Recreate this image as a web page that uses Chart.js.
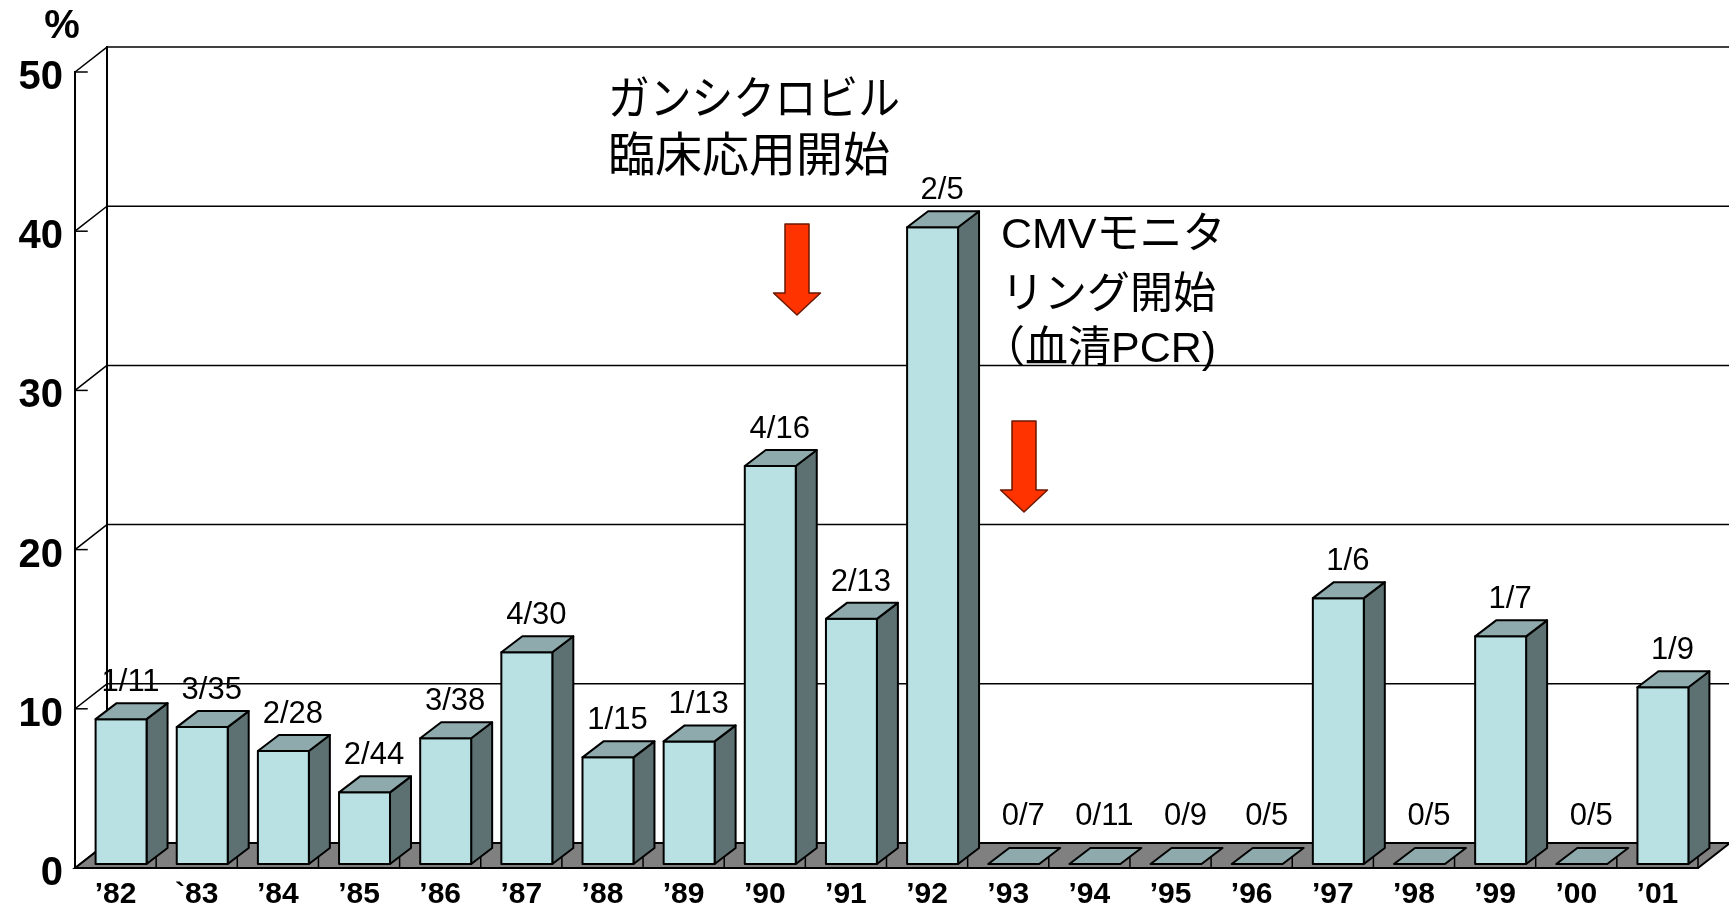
<!DOCTYPE html>
<html>
<head>
<meta charset="utf-8">
<script src="https://cdn.jsdelivr.net/npm/chart.js@4.4.0/dist/chart.umd.min.js"></script>
<style>
    html, body { margin: 0; padding: 0; background: #fff; }
    canvas { display: block; }
</style>
</head>
<body>
<canvas id="cmvChart" width="1729" height="909"></canvas>
<script>
// Years and incidence (%), with the n/N counts shown above each bar
const years = ['’82', '`83', '’84', '’85', '’86', '’87', '’88', '’89', '’90', '’91',
               '’92', '’93', '’94', '’95', '’96', '’97', '’98', '’99', '’00', '’01'];
const percents = [9.1, 8.6, 7.1, 4.5, 7.9, 13.3, 6.7, 7.7, 25, 15.4,
                  40, 0, 0, 0, 0, 16.7, 0, 14.3, 0, 11.1];
const counts = ['1/11', '3/35', '2/28', '2/44', '3/38', '4/30', '1/15', '1/13', '4/16', '2/13',
                '2/5', '0/7', '0/11', '0/9', '0/5', '1/6', '0/5', '1/7', '0/5', '1/9'];
const yTicks = [0, 10, 20, 30, 40, 50];

// 3D look
const WALL_DX = 32, WALL_DY = 25;
const BAR_DX = 21, BAR_DY = 16;
const BAR_OX = 5.5, BAR_OY = 4;
const FONT = '"Liberation Sans", Arial, "Noto Sans CJK JP", sans-serif';

function poly(ctx, pts, fill) {
    ctx.beginPath();
    ctx.moveTo(pts[0][0], pts[0][1]);
    for (let i = 1; i < pts.length; i++) ctx.lineTo(pts[i][0], pts[i][1]);
    ctx.closePath();
    if (fill) { ctx.fillStyle = fill; ctx.fill(); }
    ctx.stroke();
}

function line(ctx, x1, y1, x2, y2) {
    ctx.beginPath();
    ctx.moveTo(x1, y1);
    ctx.lineTo(x2, y2);
    ctx.stroke();
}

function arrow(ctx, cx, top, headStart, tip) {
    const sw = 12, hw = 23.5;
    ctx.save();
    ctx.fillStyle = '#FF3300';
    ctx.strokeStyle = '#6b1800';
    ctx.lineWidth = 1.5;
    ctx.beginPath();
    ctx.moveTo(cx - sw, top);
    ctx.lineTo(cx + sw, top);
    ctx.lineTo(cx + sw, headStart);
    ctx.lineTo(cx + hw, headStart);
    ctx.lineTo(cx, tip);
    ctx.lineTo(cx - hw, headStart);
    ctx.lineTo(cx - sw, headStart);
    ctx.closePath();
    ctx.fill();
    ctx.stroke();
    ctx.restore();
}

// Walls, gridlines, floor, then the 3D bars and texts
const wallsPlugin = {
    id: 'walls',
    beforeDatasetsDraw(chart) {
        const { ctx, chartArea: a, scales: { y } } = chart;
        const W = chart.width;
        ctx.save();
        ctx.strokeStyle = '#000';
        ctx.lineCap = 'square';

        // floor
        ctx.lineWidth = 2;
        poly(ctx, [[a.left, a.bottom], [a.right, a.bottom],
                   [a.right + WALL_DX, a.bottom - WALL_DY], [a.left + WALL_DX, a.bottom - WALL_DY]], '#808080');

        // gridlines on back and side wall
        ctx.lineWidth = 1.5;
        yTicks.forEach(v => {
            const py = y.getPixelForValue(v);
            if (v > 0) line(ctx, a.left + WALL_DX, py - WALL_DY, W, py - WALL_DY);
            line(ctx, a.left, py, a.left + WALL_DX, py - WALL_DY);
            line(ctx, a.left, py, a.left + 12, py);
        });

        // wall edges
        ctx.lineWidth = 2;
        line(ctx, a.left, a.bottom, a.left, a.top);
        line(ctx, a.left + WALL_DX, a.bottom - WALL_DY, a.left + WALL_DX, a.top - WALL_DY);

        // category ticks on the floor edge
        ctx.lineWidth = 1.5;
        const step = (a.right - a.left) / years.length;
        for (let i = 1; i <= years.length; i++) {
            const px = a.left + i * step;
            line(ctx, px, a.bottom, px, a.bottom - 10);
        }
        ctx.restore();
    },
    afterDatasetsDraw(chart) {
        const { ctx } = chart;
        const meta = chart.getDatasetMeta(0);
        ctx.save();
        ctx.strokeStyle = '#000';
        ctx.lineWidth = 2;
        ctx.lineJoin = 'round';

        meta.data.forEach((bar, i) => {
            const l = bar.x - bar.width / 2 + BAR_OX;
            const r = bar.x + bar.width / 2 + BAR_OX;
            const t = bar.y - BAR_OY;
            const b = bar.base - BAR_OY;
            if (b - t > 0.5) {
                poly(ctx, [[r, t], [r + BAR_DX, t - BAR_DY], [r + BAR_DX, b - BAR_DY], [r, b]], '#5E7172');
                poly(ctx, [[l, t], [r, t], [r, b], [l, b]], '#B9E0E3');
            }
            poly(ctx, [[l, t], [l + BAR_DX, t - BAR_DY], [r + BAR_DX, t - BAR_DY], [r, t]], '#8FAAAC');

            // n/N label
            ctx.fillStyle = '#000';
            ctx.font = '31px ' + FONT;
            ctx.textAlign = 'center';
            ctx.textBaseline = 'alphabetic';
            const ly = Math.min(bar.y - 32, bar.base - 43);
            ctx.fillText(counts[i], bar.x + 15, ly);
        });

        // "%" unit
        ctx.font = 'bold 40px ' + FONT;
        ctx.textAlign = 'center';
        ctx.textBaseline = 'middle';
        ctx.fillText('%', 62, 27);

        // annotations
        ctx.textAlign = 'left';
        ctx.font = '46px ' + FONT;
        ctx.fillText('ガンシクロビル', 608, 101, 292);
        ctx.font = '47px ' + FONT;
        ctx.fillText('臨床応用開始', 608, 158);
        ctx.font = '43px ' + FONT;
        ctx.fillText('CMVモニタ', 1001, 236);
        ctx.fillText('リング開始', 1001, 296);
        ctx.fillText('（血清PCR)', 982, 350);

        arrow(ctx, 797, 224, 293, 315);
        arrow(ctx, 1024, 421, 490, 512);
        ctx.restore();
    }
};

const ctx = document.getElementById('cmvChart').getContext('2d');
new Chart(ctx, {
    type: 'bar',
    data: {
        labels: years,
        datasets: [{
            data: percents,
            backgroundColor: 'rgba(0,0,0,0)',
            borderWidth: 0,
            barPercentage: 0.628,
            categoryPercentage: 1
        }]
    },
    options: {
        responsive: false,
        animation: false,
        devicePixelRatio: 1,
        layout: { padding: { top: 72, right: 31, left: 0, bottom: 0 } },
        plugins: { legend: { display: false }, tooltip: { enabled: false } },
        scales: {
            x: {
                grid: { display: false, drawTicks: false },
                border: { display: false },
                ticks: {
                    color: '#000',
                    font: { family: FONT, size: 30, weight: 'bold' },
                    padding: 9,
                    autoSkip: false,
                    maxRotation: 0
                },
                afterFit: s => { s.height = 41; }
            },
            y: {
                min: 0,
                max: 50,
                grid: { display: false, drawTicks: false },
                border: { display: false },
                ticks: {
                    stepSize: 10,
                    color: '#000',
                    font: { family: FONT, size: 40, weight: 'bold' },
                    padding: 12,
                    labelOffset: 6
                },
                afterFit: s => { s.width = 75; }
            }
        }
    },
    plugins: [wallsPlugin]
});
</script>
</body>
</html>
